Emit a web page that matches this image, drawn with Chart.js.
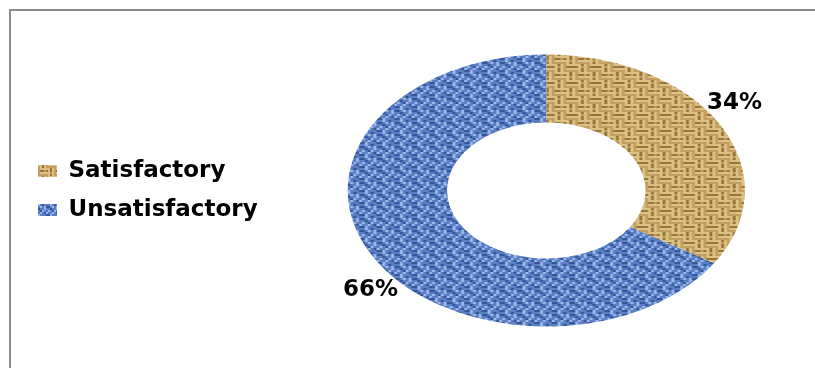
<!DOCTYPE html>
<html>
<head>
<meta charset="utf-8">
<script src="https://cdn.jsdelivr.net/npm/chart.js@4.4.0/dist/chart.umd.min.js"></script>
<style>
  body { margin: 0; background: #fff; }
  #wrap { position: relative; width: 815px; height: 368px; overflow: hidden; }
  #frame { position: absolute; left: 9px; top: 9px; width: 830px; height: 380px;
           border-top: 2px solid #8c8c8c; border-left: 2px solid #8c8c8c; }
  #myChart { position: absolute; left: 0; top: 0; }
</style>
</head>
<body>
<div id="wrap">
  <div id="frame"></div>
  <!-- a bit wider than the window so the ring sits right of centre -->
  <canvas id="myChart" width="825" height="368"></canvas>
</div>
<script>
var categories = ['Satisfactory', 'Unsatisfactory'];
var shares = [34, 66];

// little woven tiles for the fills, each cell drawn 2x2
function makePattern(rows, colors) {
  var c = document.createElement('canvas');
  c.width = rows[0].length * 2;
  c.height = rows.length * 2;
  var g = c.getContext('2d');
  rows.forEach(function (row, y) {
    for (var x = 0; x < row.length; x++) {
      g.fillStyle = colors[row[x]];
      g.fillRect(x * 2, y * 2, 2, 2);
    }
  });
  return g.createPattern(c, 'repeat');
}

var tan = makePattern([
  'LLLLLDLB',
  'DDDDLBLB',
  'LLLLLDLB',
  'BBBBLDLB',
  'LDLBLLLL',
  'LDLBDDBD',
  'LBLBLLLL',
  'LDLBBBBB'
], { L: '#dcc184', D: '#96743a', B: '#c29f60' });

var blue = makePattern([
  'BLBDBB',
  'DBLBLD',
  'BDBBLB',
  'LBDLBB',
  'BBLBDL',
  'DLBBBD'
], { L: '#9db8ea', D: '#34569a', B: '#5a7ec4' });

var sx = 1.46; // the ring is drawn as an ellipse

var stretch = {
  id: 'stretch',
  beforeDatasetsDraw: function (chart) {
    var arc = chart.getDatasetMeta(0).data[0];
    var ctx = chart.ctx;
    ctx.save();
    ctx.translate(arc.x, arc.y);
    ctx.scale(sx, 1);
    ctx.translate(-arc.x, -arc.y);
  },
  afterDatasetsDraw: function (chart) {
    chart.ctx.restore();
  },
  afterDraw: function (chart) {
    var ctx = chart.ctx;
    var total = shares.reduce(function (a, b) { return a + b; }, 0);
    ctx.save();
    ctx.font = 'bold 23px "DejaVu Sans"';
    ctx.fillStyle = '#000';
    ctx.textAlign = 'center';
    ctx.textBaseline = 'middle';
    chart.getDatasetMeta(0).data.forEach(function (arc, i) {
      var a = arc.startAngle + 0.455 * (arc.endAngle - arc.startAngle);
      var r = arc.outerRadius * 1.147;
      var x = arc.x + Math.cos(a) * r * sx;
      var y = arc.y + Math.sin(a) * r;
      ctx.fillText(Math.round(shares[i] / total * 100) + '%', x, y);
    });
    ctx.restore();
  }
};

var ctx = document.getElementById('myChart').getContext('2d');
new Chart(ctx, {
  type: 'doughnut',
  data: {
    labels: categories,
    datasets: [{
      data: shares,
      backgroundColor: [tan, blue],
      borderWidth: 0,
      radius: 136,
      cutout: '50%'
    }]
  },
  options: {
    responsive: false,
    animation: false,
    layout: { padding: { left: 22, top: 13, bottom: 0, right: 0 } },
    plugins: {
      tooltip: { enabled: false },
      legend: {
        position: 'left',
        labels: {
          boxWidth: 19,
          boxHeight: 12,
          padding: 16,
          color: '#000',
          font: { family: 'DejaVu Sans', size: 23, weight: 'bold' }
        }
      }
    }
  },
  plugins: [stretch]
});
</script>
</body>
</html>
